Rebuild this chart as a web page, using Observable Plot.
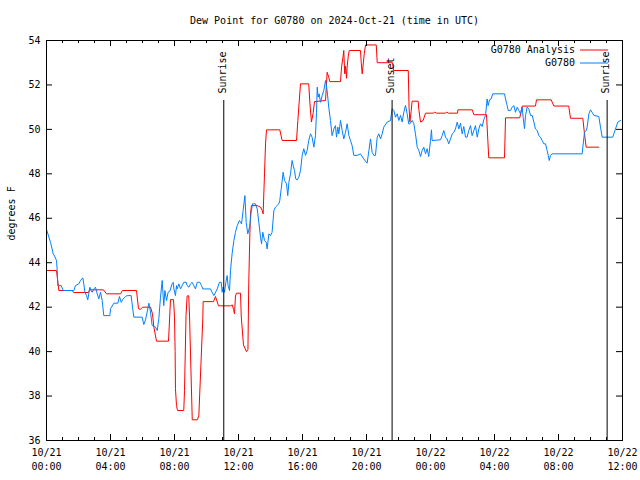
<!DOCTYPE html>
<html><head><meta charset="utf-8">
<script src="https://cdn.jsdelivr.net/npm/d3@7"></script>
<script src="https://cdn.jsdelivr.net/npm/@observablehq/plot@0.6"></script>
<style>body{margin:0;background:#fff} #chart svg{display:block}</style>
</head><body><div id="chart"></div>
<script>
// ---- data (hours since 2024-10-21 00:00 UTC, dew point °F) ----
const titleText = "Dew Point for G0780 on 2024-Oct-21 (time in UTC)";
const yLabel = "degrees F";
const seriesNames = ["G0780 Analysis", "G0780"];
const seriesColors = ["#ff0000", "#0080ff"];
const xDomainHours = [0, 36];
const yDomain = [36, 54];
const yTickValues = [36, 38, 40, 42, 44, 46, 48, 50, 52, 54];
const sunHours = [11.08, 21.6, 35.04];
const sunLabels = ["Sunrise", "Sunset", "Sunrise"];

const analysisSeries = [[0,43.65],[0.625,43.65],[0.77,42.75],[1.61,42.75],[1.69,42.66],[2.625,42.66],[2.69,42.78],[3.56,42.78],[3.75,42.6],[4.625,42.6],[4.75,42.75],[5.625,42.75],[5.75,41.93],[5.875,41.9],[6.0,42.0],[6.5,42.0],[6.625,41.7],[6.71,41.1],[6.875,40.47],[7.625,40.47],[7.75,42.34],[7.94,42.34],[8.0,41.55],[8.04,40.0],[8.06,38.33],[8.125,37.57],[8.19,37.35],[8.58,37.35],[8.625,38.25],[8.72,41.62],[8.79,42.51],[8.89,42.51],[8.94,41.6],[9.0,39.9],[9.11,36.93],[9.42,36.93],[9.52,37.1],[9.67,39.75],[9.77,41.5],[9.79,42.25],[10.44,42.25],[10.56,42.48],[10.75,42.06],[11.5,42.06],[11.61,42.1],[11.69,41.9],[11.75,41.7],[11.81,42.5],[11.875,42.63],[12.125,42.63],[12.17,41.6],[12.31,40.3],[12.5,40.0],[12.59,40.1],[12.64,43.05],[12.71,45.3],[12.75,46.2],[12.81,46.57],[13.17,46.57],[13.375,46.5],[13.48,46.35],[13.54,46.2],[13.625,48.0],[13.69,49.35],[13.75,49.98],[14.58,49.98],[14.73,49.5],[15.625,49.5],[15.71,50.4],[15.83,51.6],[15.875,52.05],[16.39,52.05],[16.46,51.2],[16.56,50.33],[16.67,50.75],[16.75,51.25],[17.44,51.3],[17.54,52.57],[17.64,52.35],[17.71,52.15],[18.375,52.15],[18.44,52.8],[18.54,53.3],[18.58,53.55],[18.64,52.5],[18.69,52.85],[18.75,52.3],[18.79,52.8],[18.86,53.3],[18.92,53.55],[19.625,53.55],[19.67,53.0],[19.73,52.5],[19.79,52.9],[19.86,53.4],[19.94,53.8],[20.61,53.8],[20.67,53.0],[21.625,53.0],[21.69,52.65],[22.61,52.65],[22.66,51.0],[22.71,50.33],[22.79,50.8],[22.85,51.27],[23.23,51.27],[23.27,50.9],[23.375,50.33],[23.54,50.4],[23.69,50.73],[24.19,50.73],[24.25,50.78],[24.375,50.73],[24.94,50.73],[25.0,50.78],[25.125,50.73],[25.69,50.73],[25.71,50.88],[26.61,50.88],[26.71,50.66],[27.5,50.66],[27.64,48.72],[28.625,48.72],[28.69,50.52],[29.58,50.52],[29.73,51.05],[30.56,51.05],[30.625,51.33],[31.54,51.33],[31.71,51.05],[32.64,51.05],[32.75,50.5],[33.52,50.5],[33.625,49.8],[33.73,49.2],[34.52,49.2]];

const stationSeries = [[0,45.5],[0.25,44.92],[0.42,44.4],[0.5,44.3],[0.625,44.1],[0.67,43.65],[0.71,42.97],[0.92,42.97],[1.04,42.75],[1.71,42.75],[1.81,42.97],[2.02,43.05],[2.125,43.2],[2.27,43.32],[2.33,43.05],[2.4,42.67],[2.5,42.52],[2.58,42.33],[2.71,42.9],[2.79,42.75],[2.85,42.67],[2.96,42.82],[3.06,42.9],[3.17,42.6],[3.27,42.37],[3.375,42.67],[3.48,42.3],[3.58,41.62],[3.96,41.62],[4.0,41.93],[4.21,42.18],[4.46,42.18],[4.56,42.48],[4.67,42.22],[4.79,42.37],[4.94,42.48],[5.04,42.52],[5.29,42.52],[5.375,42.0],[5.46,41.55],[5.98,41.55],[6.08,41.22],[6.19,41.43],[6.29,41.78],[6.4,42.18],[6.5,41.78],[6.6,41.18],[6.71,41.13],[6.81,41.1],[6.92,40.95],[7.02,41.48],[7.125,42.45],[7.23,43.2],[7.33,42.07],[7.4,42.75],[7.5,42.3],[7.6,42.67],[7.71,42.72],[7.85,43.05],[7.92,43.12],[7.96,42.82],[8.06,42.52],[8.125,42.97],[8.17,42.82],[8.27,43.05],[8.375,42.82],[8.48,42.97],[8.58,43.12],[8.73,43.12],[8.79,42.97],[8.9,42.9],[9.0,43.05],[9.1,43.12],[9.21,42.97],[9.31,42.82],[9.42,43.12],[9.58,43.12],[9.69,42.97],[9.77,42.82],[10.25,42.82],[10.35,42.67],[10.46,42.52],[10.67,42.82],[10.81,43.12],[10.92,43.12],[10.98,42.67],[11.04,42.9],[11.125,42.67],[11.21,43.12],[11.29,43.42],[11.35,42.97],[11.44,42.75],[11.5,43.65],[11.6,44.4],[11.71,45.0],[11.81,45.37],[11.92,45.67],[12.06,45.9],[12.19,45.75],[12.29,46.35],[12.4,47.02],[12.48,45.82],[12.58,45.3],[12.71,45.67],[12.79,46.27],[12.875,46.65],[13.06,46.65],[13.17,46.42],[13.27,45.82],[13.375,45.15],[13.44,44.85],[13.52,45.37],[13.625,45.0],[13.73,44.92],[13.79,44.62],[13.9,45.3],[14.0,45.22],[14.1,45.37],[14.21,46.35],[14.31,46.5],[14.52,46.65],[14.58,46.8],[14.67,47.33],[14.79,48.07],[14.875,47.7],[15.0,47.55],[15.08,47.02],[15.15,47.62],[15.25,48.0],[15.35,48.6],[15.42,48.37],[15.5,48.15],[15.58,47.77],[15.67,47.73],[15.77,47.85],[15.875,48.15],[15.98,48.83],[16.08,49.13],[16.19,48.83],[16.29,49.05],[16.39,49.5],[16.5,49.8],[16.6,49.65],[16.71,49.2],[16.81,49.72],[16.875,50.77],[16.92,51.9],[16.98,51.45],[17.04,51.6],[17.125,51.22],[17.23,51.52],[17.33,51.75],[17.44,52.2],[17.54,51.75],[17.64,51.0],[17.75,50.4],[17.85,49.72],[17.96,50.02],[18.06,50.17],[18.125,49.65],[18.21,50.1],[18.27,49.8],[18.375,50.4],[18.48,49.95],[18.58,49.57],[18.69,49.87],[18.79,50.25],[18.9,49.72],[19.0,49.5],[19.1,49.27],[19.21,48.83],[19.42,48.83],[19.625,48.9],[19.83,48.67],[20.04,48.48],[20.15,49.05],[20.25,49.57],[20.35,48.97],[20.46,48.83],[20.56,48.83],[20.67,49.65],[20.77,49.8],[20.875,49.57],[20.98,49.8],[21.08,50.1],[21.29,50.33],[21.5,50.4],[21.6,50.93],[21.71,50.85],[21.81,50.55],[21.92,50.7],[22.02,50.4],[22.125,50.63],[22.23,50.33],[22.33,50.77],[22.44,51.08],[22.54,50.7],[22.64,50.25],[22.71,50.25],[22.86,50.4],[22.96,50.25],[23.06,49.8],[23.17,49.2],[23.27,49.05],[23.375,48.78],[23.48,49.05],[23.58,49.2],[23.69,48.9],[23.79,49.13],[23.89,48.78],[24.0,49.5],[24.06,49.98],[24.1,49.5],[24.625,49.53],[24.73,49.72],[24.83,49.95],[24.94,49.65],[25.04,49.57],[25.14,49.35],[25.25,49.57],[25.36,49.8],[25.46,49.87],[25.56,50.02],[25.67,50.33],[25.77,50.02],[25.875,50.28],[25.98,49.8],[26.08,50.13],[26.19,49.65],[26.29,49.65],[26.39,49.95],[26.5,50.17],[26.6,49.72],[26.71,49.95],[26.81,50.17],[26.92,49.65],[27.02,50.02],[27.125,50.25],[27.23,50.13],[27.33,50.43],[27.44,50.63],[27.54,51.37],[27.6,51.07],[27.69,51.33],[27.79,51.37],[27.89,51.6],[28.625,51.6],[28.69,51.37],[28.79,51.07],[28.86,50.85],[29.0,50.85],[29.1,51.0],[29.21,51.07],[29.31,50.77],[29.42,51.0],[29.52,50.85],[29.625,50.7],[29.73,51.0],[29.79,50.55],[29.875,50.03],[29.94,50.63],[30.04,51.0],[30.14,50.93],[30.25,50.63],[30.36,50.63],[30.46,50.33],[30.56,50.02],[30.67,49.95],[30.77,49.72],[30.875,49.65],[30.98,49.5],[31.08,49.35],[31.19,49.35],[31.29,49.05],[31.36,48.83],[31.42,48.6],[31.5,48.83],[31.6,48.9],[33.48,48.9],[33.52,49.2],[33.625,49.87],[33.73,49.95],[33.79,50.1],[33.9,50.7],[34.0,50.88],[34.1,50.77],[34.21,50.63],[34.52,50.58],[34.625,50.1],[34.73,49.65],[35.39,49.65],[35.46,49.8],[35.56,50.02],[35.71,50.33],[35.875,50.4]];

// ---- build ----
const BASE = Date.UTC(2024, 9, 21);
const toDate = h => new Date(BASE + h * 3600e3);
const analysis = analysisSeries.map(([h, v]) => ({t: toDate(h), v}));
const station = stationSeries.map(([h, v]) => ({t: toDate(h), v}));
const sun = sunHours.map((h, i) => ({t: toDate(h), label: sunLabels[i]}));
const t0 = toDate(xDomainHours[0]), t1 = toDate(xDomainHours[1]);
const minorTicks = d3.utcHour.range(t0, new Date(+t1 + 1));
const majorTicks = d3.utcHour.every(4).range(t0, new Date(+t1 + 1));

const W = 640, H = 480, mL = 46, mR = 18, mT = 40, mB = 40;
const FW = W - mL - mR, FH = H - mT - mB;
const fmt = d3.utcFormat("%m/%d\n%H:%M");

function legendMark(index, scales, values, dims) {
  const g = d3.create("svg:g");
  const xr = dims.width - dims.marginRight - 14;
  seriesNames.forEach((name, i) => {
    const y = dims.marginTop + 10 + i * 13;
    g.append("line").attr("x1", xr - 28).attr("x2", xr).attr("y1", y).attr("y2", y)
      .attr("stroke", seriesColors[i]).attr("stroke-width", 1);
    g.append("text").attr("x", xr - 33).attr("y", y).attr("dy", "0.32em")
      .attr("text-anchor", "end").attr("fill", "black").text(name);
  });
  return g.node();
}

const chart = Plot.plot({
  width: W, height: H,
  marginLeft: mL, marginRight: mR, marginTop: mT, marginBottom: mB,
  style: {fontFamily: "'DejaVu Sans Mono', monospace", fontSize: "10px", background: "white", color: "black"},
  x: {type: "utc", domain: [t0, t1]},
  y: {domain: yDomain},
  marks: [
    Plot.line(analysis, {x: "t", y: "v", stroke: seriesColors[0], strokeWidth: 1}),
    Plot.line(station, {x: "t", y: "v", stroke: seriesColors[1], strokeWidth: 1}),
    Plot.ruleX(sun, {x: "t", insetTop: 60, stroke: "black", strokeWidth: 1}),
    Plot.text(sun, {x: "t", text: "label", frameAnchor: "top", rotate: -90, textAnchor: "start", dy: 53, dx: -5, fill: "black"}),
    Plot.frame({stroke: "black"}),
    Plot.tickX(minorTicks, {x: d => d, insetTop: FH - 3, stroke: "black"}),
    Plot.tickX(minorTicks, {x: d => d, insetBottom: FH - 3, stroke: "black"}),
    Plot.tickX(majorTicks, {x: d => d, insetTop: FH - 6, stroke: "black"}),
    Plot.tickX(majorTicks, {x: d => d, insetBottom: FH - 6, stroke: "black"}),
    Plot.tickY(yTickValues, {y: d => d, insetRight: FW - 6, stroke: "black"}),
    Plot.tickY(yTickValues, {y: d => d, insetLeft: FW - 6, stroke: "black"}),
    Plot.axisX(majorTicks, {tickSize: 0, tickPadding: 6, tickFormat: fmt, lineHeight: 1.4, fill: "black", label: null}),
    Plot.axisY(yTickValues, {tickSize: 0, tickPadding: 6, fill: "black", label: null}),
    Plot.text([titleText], {frameAnchor: "top", dy: -24, fill: "black"}),
    Plot.text([yLabel], {frameAnchor: "left", dx: -35, rotate: -90, fill: "black"}),
    legendMark
  ]
});
document.getElementById("chart").appendChild(chart);
</script></body></html>
